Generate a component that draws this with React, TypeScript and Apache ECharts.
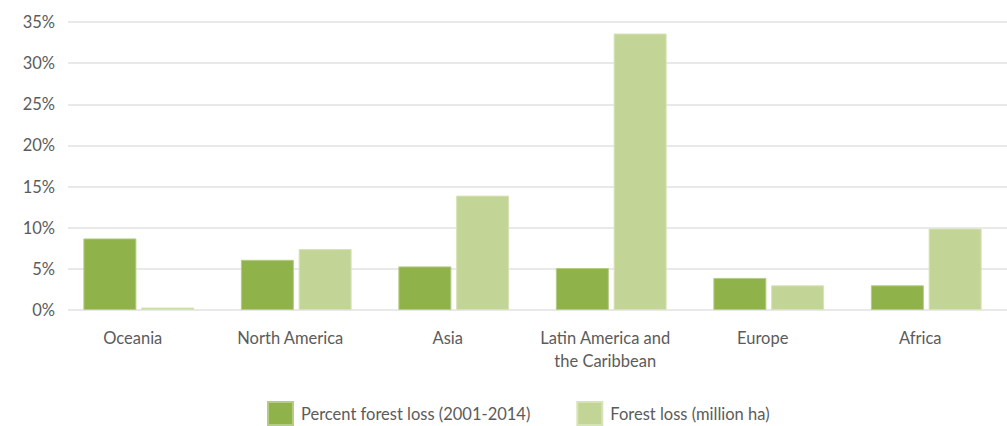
import React, { useEffect, useRef } from "react";
import * as echarts from "echarts";

const categories = ["Oceania", "North America", "Asia", "Latin America and\nthe Caribbean", "Europe", "Africa"];
const percentLoss = [8.7, 6.1, 5.3, 5.1, 3.9, 3.0];
const forestLossMha = [0.3, 7.4, 13.9, 33.6, 3.0, 9.9];
const yTicks = { min: 0, max: 35, interval: 5 };
const seriesNames = ["Percent forest loss (2001-2014)", "Forest loss (million ha)"];

const FONT = "Lato, 'Roboto', sans-serif";
const TEXT = "#5b5b5b";
const FS = 16.5;

export default function App() {
  const ref = useRef<HTMLDivElement>(null);
  useEffect(() => {
    if (!ref.current) return;
    const chart = echarts.init(ref.current, null, { renderer: "svg" });
    chart.setOption({
      animation: false,
      backgroundColor: "#ffffff",
      textStyle: { fontFamily: FONT },
      legend: {
        data: seriesNames,
        top: 396,
        left: 262,
        itemWidth: 25,
        itemHeight: 23,
        itemGap: 46,
        icon: "rect",
        textStyle: { color: TEXT, fontSize: FS, fontFamily: FONT, padding: [0, 0, 0, 3] },
      },
      grid: [
        { left: 68, right: 0, top: 22, bottom: 116 },
        { left: 60, right: 2, top: 22, bottom: 116 },
      ],
      xAxis: [
        { type: "category", gridIndex: 0, data: categories, show: false },
        {
          type: "category",
          gridIndex: 1,
          data: categories,
          axisLine: { show: false },
          axisTick: { show: false },
          axisLabel: {
            color: TEXT,
            fontSize: FS,
            fontFamily: FONT,
            lineHeight: 23,
            margin: 16,
            padding: [0, 12, 0, 0],
            interval: 0,
          },
        },
      ],
      yAxis: [
        {
          type: "value",
          gridIndex: 0,
          min: yTicks.min,
          max: yTicks.max,
          interval: yTicks.interval,
          axisLine: { show: false },
          axisTick: { show: false },
          splitLine: { lineStyle: { color: "#e2e2e2", width: 1.5 } },
          axisLabel: {
            formatter: "{value}%",
            color: TEXT,
            fontSize: FS,
            fontFamily: FONT,
            margin: 13,
          },
        },
        {
          type: "value",
          gridIndex: 1,
          min: yTicks.min,
          max: yTicks.max,
          interval: yTicks.interval,
          show: false,
        },
      ],
      series: [
        {
          name: seriesNames[0],
          type: "bar",
          xAxisIndex: 1,
          yAxisIndex: 1,
          data: percentLoss,
          barWidth: 53,
          barGap: "9%",
          itemStyle: { color: "#8fb24a", borderColor: "#b5cc84", borderWidth: 1 },
        },
        {
          name: seriesNames[1],
          type: "bar",
          xAxisIndex: 1,
          yAxisIndex: 1,
          data: forestLossMha,
          barWidth: 53,
          barGap: "9%",
          itemStyle: { color: "#c3d596", borderColor: "#d6e3b6", borderWidth: 1 },
        },
      ],
    });
    return () => chart.dispose();
  }, []);
  return <div ref={ref} style={{ width: 1007, height: 426, position: "absolute", left: 0, top: 0 }} />;
}
